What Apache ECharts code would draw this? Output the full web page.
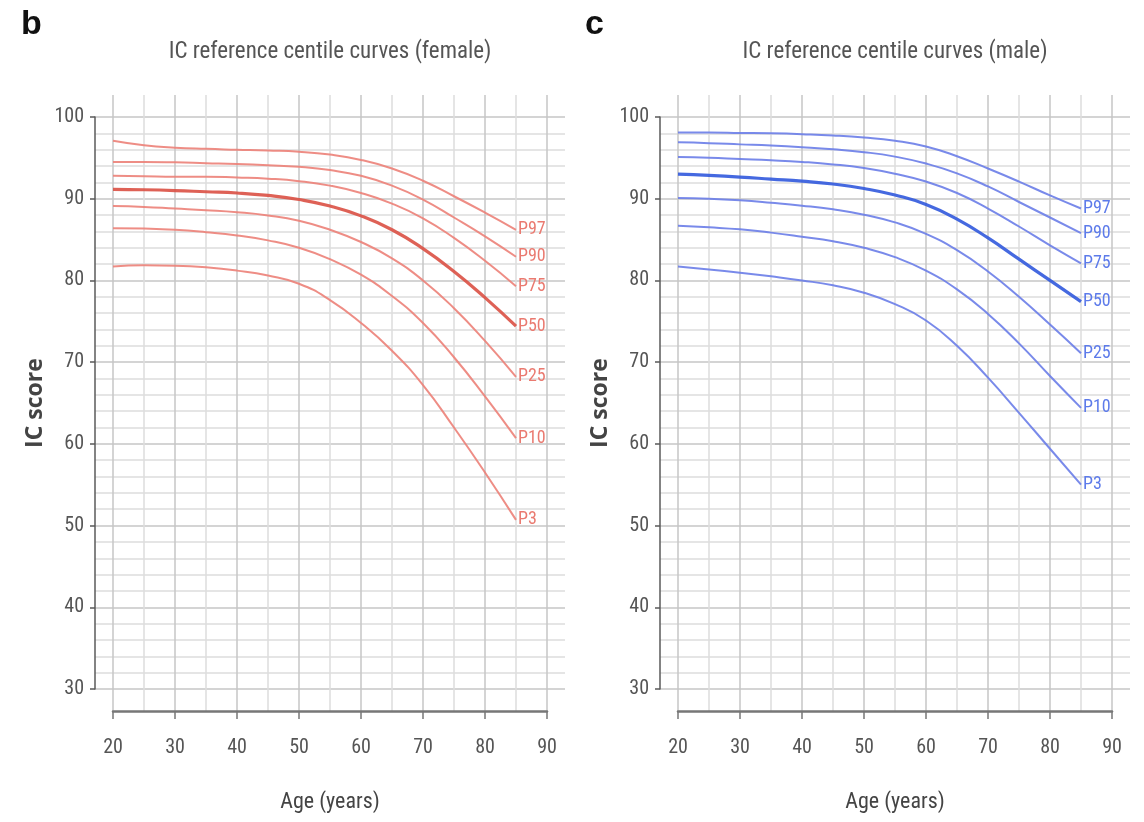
<!DOCTYPE html>
<html><head><meta charset="utf-8">
<script src="https://cdn.jsdelivr.net/npm/echarts@6/dist/echarts.min.js"></script>
<style>html,body{margin:0;padding:0;background:#fff}#c{width:1144px;height:822px}</style>
</head><body><div id="c"></div>
<script>
// ---- data ----
const ages = [20, 25, 30, 35, 40, 45, 50, 55, 60, 65, 70, 75, 80, 85];
const centileNames = ['P97', 'P90', 'P75', 'P50', 'P25', 'P10', 'P3'];

const femaleP97 = [97.1, 96.55, 96.25, 96.1, 96.0, 95.9, 95.75, 95.4, 94.75, 93.7, 92.2, 90.3, 88.3, 86.2];
const femaleP90 = [94.5, 94.5, 94.45, 94.35, 94.25, 94.1, 93.9, 93.5, 92.8, 91.6, 89.9, 87.7, 85.4, 82.9];
const femaleP75 = [92.8, 92.75, 92.7, 92.7, 92.6, 92.45, 92.15, 91.6, 90.7, 89.4, 87.6, 85.2, 82.4, 79.3];
const femaleP50 = [91.15, 91.1, 91.0, 90.85, 90.7, 90.4, 89.9, 89.1, 87.9, 86.2, 83.9, 81.1, 77.9, 74.4];
const femaleP25 = [89.1, 89.0, 88.8, 88.6, 88.35, 87.95, 87.3, 86.2, 84.7, 82.7, 80.0, 76.6, 72.6, 68.2];
const femaleP10 = [86.4, 86.35, 86.2, 85.9, 85.5, 84.9, 84.0, 82.6, 80.7, 78.1, 74.8, 70.6, 65.8, 60.7];
const femaleP3  = [81.7, 81.85, 81.8, 81.6, 81.2, 80.6, 79.6, 77.6, 74.8, 71.4, 67.2, 62.0, 56.5, 50.7];

const maleP97 = [98.1, 98.1, 98.05, 98.0, 97.9, 97.75, 97.5, 97.1, 96.4, 95.2, 93.7, 92.1, 90.4, 88.8];
const maleP90 = [96.9, 96.8, 96.65, 96.5, 96.3, 96.05, 95.7, 95.15, 94.3, 93.1, 91.5, 89.6, 87.7, 85.8];
const maleP75 = [95.1, 95.0, 94.85, 94.7, 94.5, 94.2, 93.75, 93.05, 92.1, 90.7, 88.8, 86.6, 84.3, 82.1];
const maleP50 = [93.0, 92.85, 92.65, 92.4, 92.15, 91.8, 91.25, 90.45, 89.3, 87.5, 85.2, 82.6, 80.0, 77.4];
const maleP25 = [90.1, 90.0, 89.8, 89.5, 89.15, 88.7, 88.05, 87.1, 85.7, 83.7, 81.1, 78.0, 74.6, 71.1];
const maleP10 = [86.7, 86.5, 86.25, 85.85, 85.35, 84.8, 84.0, 82.85, 81.2, 78.9, 75.9, 72.3, 68.3, 64.4];
const maleP3  = [81.7, 81.35, 80.95, 80.5, 80.0, 79.4, 78.5, 77.1, 75.1, 72.0, 68.1, 63.8, 59.4, 55.0];

const femaleSeries = [femaleP97, femaleP90, femaleP75, femaleP50, femaleP25, femaleP10, femaleP3];
const maleSeries = [maleP97, maleP90, maleP75, maleP50, maleP25, maleP10, maleP3];

// ---- styling / layout ----
const FONT = "'Roboto Condensed', 'Liberation Sans Narrow', 'Roboto', sans-serif";
const AX = '#5a5a5a';
const GRID_MAJOR = '#c6c6c6';
const GRID_MINOR = '#dddddd';

function panel(k, shift, values, lineColor, midColor, labelColor) {
  const gD = { left: 113 + shift, width: 434, top: 117, height: 572 };
  const gV = { left: 113 + shift, width: 434, top: 95, height: 616 };
  const gH = { left: 95 + shift, width: 470, top: 117, height: 572 };
  const base = k * 3;
  const grids = [gD, gV, gH];
  const xAxes = [
    { gridIndex: base, type: 'value', min: 20, max: 90, show: false },
    { gridIndex: base + 1, type: 'value', min: 20, max: 90, interval: 10,
      axisLine: { show: true, lineStyle: { color: '#777', width: 2.5 } },
      axisTick: { show: true, length: 8, lineStyle: { color: '#777', width: 1.5 } },
      axisLabel: { show: true, margin: 27, fontSize: 20, color: '#555', fontFamily: FONT },
      splitLine: { show: true, lineStyle: { color: GRID_MAJOR, width: 1.5 } },
      minorTick: { show: false, splitNumber: 2 },
      minorSplitLine: { show: true, lineStyle: { color: GRID_MINOR, width: 1.5 } },
      name: 'Age (years)', nameLocation: 'middle', nameGap: 80,
      nameTextStyle: { fontSize: 22, color: '#444', fontFamily: FONT } },
    { gridIndex: base + 2, type: 'value', min: 0, max: 1, show: false }
  ];
  const yAxes = [
    { gridIndex: base, type: 'value', min: 30, max: 100, show: false },
    { gridIndex: base + 1, type: 'value', min: 0, max: 1, show: false },
    { gridIndex: base + 2, type: 'value', min: 30, max: 100, interval: 10,
      axisLine: { show: true, lineStyle: { color: AX, width: 1.5 } },
      axisTick: { show: true, length: 5, lineStyle: { color: AX, width: 1.5 } },
      axisLabel: { show: true, margin: 11, fontSize: 20, color: '#555', fontFamily: FONT },
      splitLine: { show: true, lineStyle: { color: GRID_MAJOR, width: 1.5 } },
      minorTick: { show: false, splitNumber: 5 },
      minorSplitLine: { show: true, lineStyle: { color: GRID_MINOR, width: 1.5 } },
      name: 'IC score', nameLocation: 'middle', nameGap: 48, nameRotate: 90,
      nameTextStyle: { fontSize: 23, fontWeight: 'bold', color: '#444', fontFamily: "'Open Sans', 'Roboto', sans-serif" } }
  ];
  const series = values.map((vals, i) => {
    const isMid = centileNames[i] === 'P50';
    return {
      type: 'line', name: centileNames[i], xAxisIndex: base, yAxisIndex: base,
      data: ages.map((a, j) => [a, vals[j]]),
      smooth: 0.5, showSymbol: false, silent: true, clip: false,
      lineStyle: { color: isMid ? midColor : lineColor, width: isMid ? 3.2 : 2, opacity: 0.9 },
      endLabel: { show: true, formatter: '{a}', color: labelColor, fontSize: 18, fontFamily: FONT, distance: 2 }
    };
  });
  return { grids, xAxes, yAxes, series };
}

const p1 = panel(0, 0, femaleSeries, '#ec8178', '#da5044', '#ea7a70');
const p2 = panel(1, 565, maleSeries, '#6a7de8', '#3159dd', '#5d7bea');

const chart = echarts.init(document.getElementById('c'), null, { renderer: 'canvas' });
chart.setOption({
  backgroundColor: '#fff',
  animation: false,
  grid: [...p1.grids, ...p2.grids],
  xAxis: [...p1.xAxes, ...p2.xAxes],
  yAxis: [...p1.yAxes, ...p2.yAxes],
  series: [...p1.series, ...p2.series],
  graphic: [
    { type: 'text', left: 21, top: 8, style: { text: 'b', font: "bold 34px 'Liberation Sans', Arial, sans-serif", fill: '#111' } },
    { type: 'text', left: 585, top: 8, style: { text: 'c', font: "bold 34px 'Liberation Sans', Arial, sans-serif", fill: '#111' } },
    { type: 'text', x: 330, y: 52, style: { text: 'IC reference centile curves (female)', font: "23px " + FONT, fill: '#555', textAlign: 'center', textVerticalAlign: 'middle' } },
    { type: 'text', x: 895, y: 52, style: { text: 'IC reference centile curves (male)', font: "23px " + FONT, fill: '#555', textAlign: 'center', textVerticalAlign: 'middle' } }
  ]
});
</script>
</body></html>
